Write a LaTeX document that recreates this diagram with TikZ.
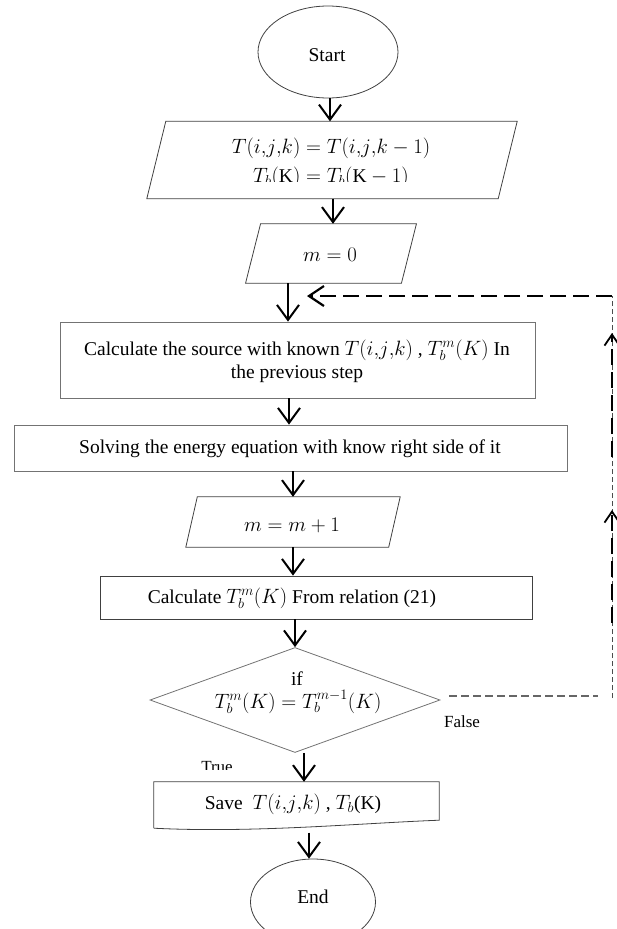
\documentclass[tikz,border=0pt]{standalone}
\usepackage{fontspec}
\setmainfont{Liberation Serif}
\usetikzlibrary{arrows.meta,shapes.geometric,calc}

% outline of a slanted (parallelogram) box around a named rectangle node
\newcommand{\drawslant}[2]{%
  \draw[outline] ($(#1.north west)+(#2/2,0)$) -- ($(#1.north east)+(#2/2,0)$)
    -- ($(#1.south east)+(-#2/2,0)$) -- ($(#1.south west)+(-#2/2,0)$) -- cycle;}

\begin{document}
\begin{tikzpicture}[x=1pt,y=-1pt,
  every node/.style={font=\fontsize{19.5}{23}\selectfont, inner sep=0pt},
  outline/.style={draw=black!75, line width=0.8pt},
  grayline/.style={draw=black!55, line width=0.8pt},
  arr/.style={line width=1.3pt, -{Straight Barb[length=15pt,width=22pt,line width=2pt]}},
  smallhead/.style={-{Straight Barb[length=11pt,width=15pt,line width=1.8pt]}},
  thickdash/.style={line width=2.6pt, dash pattern=on 16pt off 7pt},
  thindash/.style={draw=black!60, line width=1.1pt, dash pattern=on 8pt off 4pt},
  finedash/.style={draw=black!70, line width=0.9pt, dash pattern=on 5pt off 3pt},
  lbl/.style={font=\fontsize{17}{20}\selectfont}
]
\clip (0,0) rectangle (617,929);

% terminals
\node[outline, ellipse, minimum width=140pt, minimum height=92pt] (start) at (328,52) {};
\node (starttxt) at (327,55) {Start};

% initialisation
\node[rectangle, minimum width=351pt, minimum height=77pt] (p1) at (332,160) {};
\drawslant{p1}{19}
\node (p1a) at (331,148) {$T(i{,}j{,}k) = T(i{,}j{,}k-1)$};
\begin{scope}
  \clip (140,165) rectangle (520,181);
  \node (p1b) at (331,177) {$T_b(\mathrm{K}) = T_b(\mathrm{K}-1)$};
\end{scope}

\node[rectangle, minimum width=155.5pt, minimum height=59pt] (p2) at (331,253.5) {};
\drawslant{p2}{15}
\node (p2txt) at (330,255) {$m = 0$};

% iteration body
\node[grayline, rectangle, minimum width=475pt, minimum height=76pt] (b3) at (297.5,360) {};
\node[align=center] (b3txt) at (297,361)
  {Calculate the source with known $T(i{,}j{,}k)$ , $T_b^m(K)$ In\\the previous step};

\node[grayline, rectangle, minimum width=553pt, minimum height=46pt] (b4) at (290.5,448) {};
\node (b4txt) at (290,449) {Solving the energy equation with know right side of it};

\node[rectangle, minimum width=202.5pt, minimum height=50pt] (p3) at (293,522) {};
\drawslant{p3}{11.5}
\node (p3txt) at (292,525) {$m = m + 1$};

\node[outline, rectangle, minimum width=432pt, minimum height=43pt] (b5) at (316,597.5) {};
\node (b5txt) at (292,598) {Calculate $T_b^m(K)$ From relation (21)};

% test
\node[grayline, diamond, minimum width=290pt, minimum height=105pt] (dia) at (295,700) {};
\node (iftxt) at (297,679) {if};
\node (eqtxt) at (298,702) {$T_b^m(K) = T_b^{m-1}(K)$};
\node[lbl] (false) at (462,722) {False};
\begin{scope}
  \clip (180,740) rectangle (270,769);
  \node[lbl, anchor=base] (true) at (217,772.5) {True};
\end{scope}

% output (document shape)
\node[rectangle, minimum width=285pt, minimum height=46pt] (save) at (296.5,805) {};
\draw[outline] (save.south west) -- (save.north west) -- (save.north east)
  -- ($(save.south east)+(0,-8)$)
  .. controls ($(save.south east)+(-80,-5)$) and ($(save.south west)+(100,5)$) .. (save.south west);
\node (savetxt) at (293,804) {Save \ $T(i{,}j{,}k)$ , $T_b$(K)};

\node[outline, ellipse, minimum width=125pt, minimum height=86pt] (end) at (313,902) {};
\node (endtxt) at (313,897) {End};

% flow connectors
\draw[arr] (start.south) ++(2,0) coordinate (a1) -- (a1 |- p1.north);
\draw[arr] (p1.south) ++(1,0) coordinate (a2) -- (a2 |- p2.north);
\draw[arr] (p2.south) ++(-43,0) coordinate (a3) -- (a3 |- b3.north);
\draw[arr] (b3.south) ++(-8.5,0) coordinate (a4) -- (a4 |- b4.north);
\draw[arr] (p3.north |- b4.south) -- (p3.north);
\draw[arr] (p3.south) -- (p3.south |- b5.north);
\draw[arr] (dia.north |- b5.south) -- (dia.north);
\draw[arr] (dia.south) ++(9,0) coordinate (a8) -- (a8 |- save.north);
\draw[arr] ($(end.north)+(-4,-26)$) coordinate (a9) -- (a9 |- end.north);

% feedback loop (False branch)
\coordinate (loopbot) at (612,698);
\coordinate (looptop) at (612,296);
\coordinate (loopin) at ($(a3 |- looptop)+(19,0)$);
\draw[thindash] ($(dia.east)+(9,-4)$) -- ($(loopbot)+(-14,-2)$);
\draw[finedash] (loopbot) -- (looptop);
\draw[thickdash, smallhead] (612,623) -- (612,510);
\draw[thickdash, smallhead] (612,457) -- (612,333);
\draw[thickdash, -{Straight Barb[length=15pt,width=20pt,line width=2.2pt]}] (looptop) -- (loopin);
\end{tikzpicture}
\end{document}
